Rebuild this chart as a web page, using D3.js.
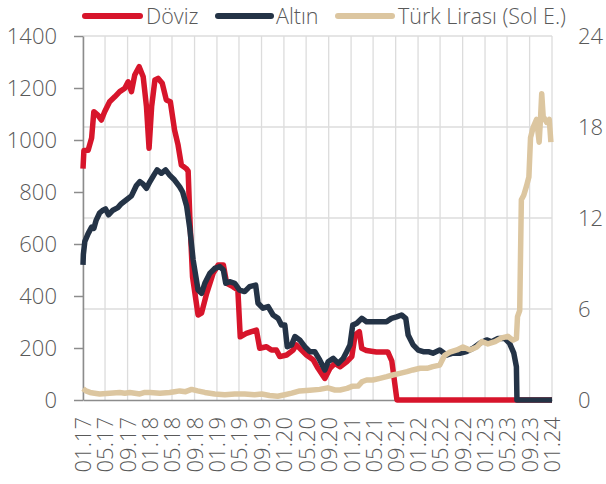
<!DOCTYPE html>
<html><head><meta charset="utf-8">
<script src="https://cdn.jsdelivr.net/npm/d3@7"></script>
<style>
body{margin:0;background:#fff}
svg{display:block}
text{font-family:"Open Sans",sans-serif;font-weight:300;fill:#595959}
</style>
</head><body>
<svg id="chart" width="606" height="484"></svg>
<script>
// ---- data ----
const seriesNames = ["Döviz", "Altın", "Türk Lirası (Sol E.)"];
const seriesColors = ["#d7152b", "#243346", "#dcc6a0"];

const xTickLabels = ["01.17","05.17","09.17","01.18","05.18","09.18","01.19","05.19","09.19","01.20","05.20","09.20","01.21","05.21","09.21","01.22","05.22","09.22","01.23","05.23","09.23","01.24"];
const leftTicks = [0,200,400,600,800,1000,1200,1400];
const rightTicks = [0,6,12,18,24];

const dovizDates = ["2017-01-01","2017-01-06","2017-01-29","2017-02-17","2017-03-01","2017-03-23","2017-04-11","2017-04-29","2017-05-26","2017-06-23","2017-07-20","2017-08-17","2017-09-04","2017-09-22","2017-10-10","2017-11-03","2017-11-25","2017-12-13","2017-12-27","2018-01-10","2018-01-28","2018-02-14","2018-03-09","2018-03-31","2018-04-22","2018-05-15","2018-06-03","2018-06-21","2018-07-18","2018-07-28","2018-08-06","2018-08-21","2018-09-20","2018-10-09","2018-11-06","2018-12-11","2019-01-08","2019-02-05","2019-02-23","2019-03-29","2019-04-25","2019-05-08","2019-06-10","2019-07-08","2019-08-04","2019-08-22","2019-09-28","2019-10-25","2019-11-21","2019-12-10","2020-01-16","2020-02-20","2020-03-09","2020-04-06","2020-05-03","2020-06-08","2020-07-05","2020-08-11","2020-09-08","2020-10-05","2020-11-02","2020-12-08","2021-01-05","2021-01-23","2021-02-15","2021-02-28","2021-03-26","2021-05-19","2021-07-20","2021-08-11","2021-09-08","2024-01-01"];
const dovizValues = [890,960,961,1008,1109,1096,1077,1109,1147,1166,1186,1199,1224,1186,1250,1282,1243,1128,968,1128,1231,1237,1218,1154,1147,1038,981,904,890,880,705,474,327,334,410,487,519,519,449,436,423,243,256,263,269,199,205,192,192,167,173,192,212,192,173,155,122,83,122,141,128,147,167,250,263,199,190,185,185,150,0,0];

const altinDates = ["2017-01-01","2017-01-03","2017-01-11","2017-01-29","2017-02-17","2017-03-01","2017-03-14","2017-04-02","2017-04-20","2017-05-04","2017-05-20","2017-06-13","2017-07-10","2017-07-29","2017-08-26","2017-09-22","2017-10-19","2017-11-07","2017-11-25","2017-12-13","2018-01-01","2018-01-22","2018-02-09","2018-03-04","2018-03-27","2018-04-18","2018-05-15","2018-06-12","2018-06-28","2018-07-20","2018-08-06","2018-08-24","2018-09-20","2018-10-09","2018-10-27","2018-11-23","2018-12-20","2019-01-17","2019-02-05","2019-02-18","2019-03-11","2019-04-08","2019-05-04","2019-06-01","2019-06-28","2019-07-31","2019-08-13","2019-09-09","2019-10-07","2019-11-03","2019-11-30","2019-12-19","2020-01-06","2020-01-19","2020-02-12","2020-03-01","2020-03-27","2020-04-24","2020-05-21","2020-06-17","2020-07-14","2020-08-11","2020-08-29","2020-09-26","2020-10-23","2020-11-19","2020-12-08","2020-12-26","2021-01-10","2021-02-01","2021-02-28","2021-03-26","2021-04-22","2021-05-19","2021-06-16","2021-07-13","2021-08-09","2021-09-06","2021-10-03","2021-10-26","2021-11-08","2021-12-05","2022-01-02","2022-01-29","2022-02-26","2022-03-23","2022-04-29","2022-06-05","2022-07-10","2022-08-16","2022-09-22","2022-10-28","2022-12-04","2023-01-10","2023-02-06","2023-03-13","2023-04-18","2023-05-15","2023-06-07","2023-06-21","2023-06-24","2024-01-01"];
const altinValues = [520,560,610,640,665,660,692,720,730,735,712,730,740,755,770,785,825,840,830,814,840,865,885,872,885,865,846,820,800,745,660,540,423,410,449,487,506,513,500,449,455,449,423,417,436,442,372,353,359,327,314,288,288,205,212,244,231,205,186,186,154,115,147,160,141,160,186,212,288,295,314,301,301,301,301,301,314,320,327,314,250,212,192,186,186,180,192,173,180,180,186,199,218,231,224,237,237,218,180,128,0,0];

const tlDates = ["2017-01-01","2017-01-17","2017-02-08","2017-03-05","2017-04-02","2017-05-26","2017-07-20","2017-08-17","2017-09-13","2017-11-07","2017-12-04","2018-01-01","2018-02-24","2018-04-18","2018-05-15","2018-06-12","2018-07-14","2018-08-16","2018-09-18","2018-10-27","2018-12-20","2019-02-13","2019-04-08","2019-06-01","2019-07-25","2019-09-02","2019-10-15","2019-11-28","2020-01-06","2020-02-13","2020-03-27","2020-05-21","2020-07-14","2020-08-27","2020-10-05","2020-11-02","2020-12-10","2021-01-06","2021-02-08","2021-03-01","2021-03-27","2021-04-29","2021-06-07","2021-07-14","2021-08-16","2021-09-24","2021-11-02","2021-12-04","2022-01-12","2022-02-19","2022-03-22","2022-04-29","2022-05-26","2022-06-23","2022-08-01","2022-09-03","2022-10-11","2022-11-18","2022-12-15","2023-01-17","2023-02-25","2023-04-02","2023-05-05","2023-06-01","2023-06-21","2023-06-27","2023-07-09","2023-07-18","2023-07-31","2023-08-15","2023-08-28","2023-09-06","2023-09-21","2023-10-09","2023-10-23","2023-10-31","2023-11-06","2023-11-14","2023-12-03","2023-12-17","2023-12-26"];
const tlValues = [0.75,0.6,0.5,0.45,0.4,0.45,0.5,0.45,0.5,0.4,0.5,0.5,0.45,0.5,0.55,0.6,0.55,0.7,0.6,0.5,0.4,0.35,0.4,0.4,0.35,0.4,0.3,0.25,0.35,0.45,0.6,0.65,0.7,0.8,0.66,0.66,0.77,0.9,0.92,1.2,1.32,1.32,1.43,1.54,1.65,1.76,1.87,1.98,2.09,2.09,2.2,2.3,2.95,3.15,3.3,3.5,3.3,3.5,3.85,3.7,3.85,4.1,4.2,3.95,4.05,5.5,5.9,13.2,13.5,14.1,14.7,17.3,18.0,18.5,17.0,18.7,20.2,18.7,18.3,18.5,17.0];

// ---- chart ----
const svg = d3.select("#chart");
const M = {left: 83, right: 552, top: 36, bottom: 400};
const parse = d3.timeParse("%Y-%m-%d");
const parseTick = d3.timeParse("%m.%y");

const x = d3.scaleTime().domain([parse("2017-01-01"), parse("2024-01-01")]).range([M.left, M.right]);
const yL = d3.scaleLinear().domain([0, 1400]).range([M.bottom, M.top]);
const yR = d3.scaleLinear().domain([0, 24]).range([M.bottom, M.top]);

const xTicks = xTickLabels.map(s => parseTick(s));
const grid = "#dcdcdc";

// vertical gridlines
svg.append("g").selectAll("line").data(xTicks).join("line")
  .attr("x1", d => x(d)).attr("x2", d => x(d))
  .attr("y1", M.top).attr("y2", M.bottom)
  .attr("stroke", grid).attr("stroke-width", 1.3);
// horizontal gridlines (right axis)
svg.append("g").selectAll("line").data(rightTicks.filter(d => d > 0)).join("line")
  .attr("x1", M.left).attr("x2", M.right)
  .attr("y1", d => yR(d)).attr("y2", d => yR(d))
  .attr("stroke", grid).attr("stroke-width", 1.3);

const fs = "22px";
// left axis
const gL = svg.append("g").attr("transform", `translate(${M.left},0)`)
  .call(d3.axisLeft(yL).tickValues(leftTicks).tickFormat(d3.format("d")).tickSize(9).tickSizeOuter(0).tickPadding(17));
gL.select(".domain").attr("stroke", "#8c8c8c").attr("stroke-width", 1.5);
gL.selectAll(".tick line").attr("stroke", "#8c8c8c").attr("stroke-width", 1.5);
gL.selectAll("text").style("font-size", fs).attr("font-family", null);

// right axis
const gR = svg.append("g").attr("transform", `translate(${M.right},0)`)
  .call(d3.axisRight(yR).tickValues(rightTicks).tickFormat(d3.format("d")).tickSize(0).tickPadding(26));
gR.select(".domain").remove();
gR.selectAll("text").style("font-size", fs).attr("font-family", null);

// bottom axis
const gB = svg.append("g").attr("transform", `translate(0,${M.bottom})`)
  .call(d3.axisBottom(x).tickValues(xTicks).tickFormat((d, i) => xTickLabels[i]).tickSize(0).tickSizeOuter(0));
gB.select(".domain").attr("stroke", "#8c8c8c").attr("stroke-width", 1.5);
gB.selectAll("text").style("font-size", fs).attr("font-family", null)
  .attr("transform", "rotate(-90)").attr("y", 0).attr("x", -17).attr("dy", "0.36em")
  .style("text-anchor", "end");

// lines
const mk = (dates, vals) => dates.map((d, i) => ({date: parse(d), v: vals[i]}));
const lineL = d3.line().x(d => x(d.date)).y(d => yL(d.v));
const lineR = d3.line().x(d => x(d.date)).y(d => yR(d.v));
const series = [
  {data: mk(dovizDates, dovizValues), gen: lineL, color: seriesColors[0]},
  {data: mk(altinDates, altinValues), gen: lineL, color: seriesColors[1]},
  {data: mk(tlDates, tlValues), gen: lineR, color: seriesColors[2]}
];
svg.append("g").selectAll("path").data(series).join("path")
  .attr("d", s => s.gen(s.data))
  .attr("fill", "none").attr("stroke", s => s.color)
  .attr("stroke-width", 5.5).attr("stroke-linejoin", "round").attr("stroke-linecap", "butt");

// legend
const legendPos = [{x1: 85, x2: 140, tx: 146}, {x1: 218, x2: 271, tx: 276}, {x1: 338, x2: 392, tx: 398}];
const lg = svg.append("g");
seriesNames.forEach((name, i) => {
  const p = legendPos[i];
  lg.append("line").attr("x1", p.x1).attr("x2", p.x2).attr("y1", 16).attr("y2", 16)
    .attr("stroke", seriesColors[i]).attr("stroke-width", 6).attr("stroke-linecap", "round");
  lg.append("text").attr("x", p.tx).attr("y", 24).text(name).style("font-size", "21.5px");
});
</script>
</body></html>
